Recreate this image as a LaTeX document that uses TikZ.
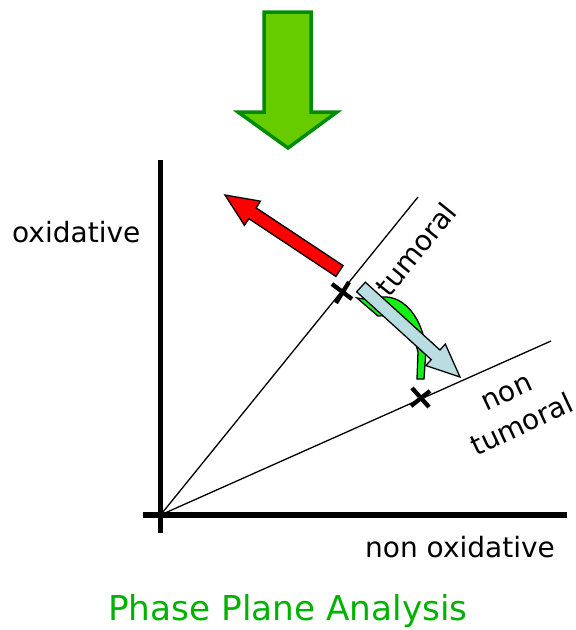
\documentclass[tikz,border=0pt]{standalone}
\usepackage{fontspec}
\setmainfont{DejaVu Sans}
\usetikzlibrary{calc}
\definecolor{arrgreen}{RGB}{102,204,0}
\definecolor{arrgreenline}{RGB}{0,140,0}
\definecolor{bluearr}{RGB}{185,222,226}
\definecolor{brightgreen}{RGB}{20,240,20}
\definecolor{titlegreen}{RGB}{0,178,0}
\newcommand{\fatarrow}[6]{% style, tail, tip, shaft width, head width, head length
  \coordinate (fa-base) at ($(#3)!#6!(#2)$);
  \draw[#1] ($(#2)!#4/2!-90:(#3)$) -- ($(fa-base)!#4/2!-90:(#3)$) -- ($(fa-base)!#5/2!-90:(#3)$)
    -- (#3) -- ($(fa-base)!#5/2!90:(#3)$) -- ($(fa-base)!#4/2!90:(#3)$) -- ($(#2)!#4/2!90:(#3)$) -- cycle;
}
\tikzset{
  axisline/.style={line width=5.5pt},
  rayline/.style={line width=1.3pt},
  xmark/.style={line width=4.3pt},
  lbl/.style={inner sep=0pt, font=\fontsize{28}{36}\selectfont},
  redarrow/.style={fill=red, draw=black, line width=1.3pt, line join=miter},
  bluearrow/.style={fill=bluearr, draw=black, line width=1.3pt, line join=miter},
  greenband/.style={fill=brightgreen, draw=black, line width=1.3pt},
  downarrow/.style={fill=arrgreen, draw=arrgreenline, line width=3.5pt, line join=miter}
}
\begin{document}
\begin{tikzpicture}[x=1pt,y=-1pt]
\useasboundingbox (0,0) rectangle (576,630);
% big green arrow
\draw[downarrow] (264,12) -- (311,12) -- (311,112) -- (337,112) -- (288,148) -- (238,112) -- (264,112) -- cycle;
% coordinates
\coordinate (O) at (160.5,515);
\coordinate (tumEnd) at (418,197);
\coordinate (nonEnd) at (551,341);
\coordinate (yTop) at (160.5,160);
\coordinate (yBot) at (160.5,533);
\coordinate (xLeft) at (143,515);
\coordinate (xRight) at (567,515);
% rays
\draw[rayline] (O) -- (tumEnd);
\draw[rayline] (O) -- (nonEnd);
% axes
\draw[axisline] (yTop) -- (yBot);
\draw[axisline] (xLeft) -- (xRight);
% x marks
\draw[xmark] (332,284) -- (352,299);
\draw[xmark] (336,303) -- (349,282);
\draw[xmark] (412,388) -- (429,407);
\draw[xmark] (411,406) -- (430,391);
% red arrow
\coordinate (redTail) at (339.5,271);
\coordinate (redTip) at (225,195);
\fatarrow{redarrow}{redTail}{redTip}{13pt}{29pt}{33pt}
% green curved arrow (partly hidden)
\draw[greenband] (357,298) -- (371,300) .. controls (397,288) and (422,312) .. (426,350)
  -- (424,379) -- (417,379) -- (418,352) .. controls (412,327) and (396,314) .. (378,316) -- cycle;
% blue arrow
\coordinate (blueTail) at (361,287);
\coordinate (blueTip) at (460,377);
\fatarrow{bluearrow}{blueTail}{blueTip}{13pt}{29pt}{33pt}
% labels
\node[lbl, anchor=base west] (oxi) at (12,242) {oxidative};
\node[lbl, anchor=base east] (nonoxi) at (555,557) {non oxidative};
\node[lbl, rotate=51] (tum) at (416,249) {tumoral};
\node[lbl, rotate=25, align=center] (nontum) at (515,410) {non\\tumoral};
\node[inner sep=0pt, anchor=base west, text=titlegreen, font=\fontsize{34.3}{40}\selectfont] (title) at (108,620) {Phase Plane Analysis};
\end{tikzpicture}
\end{document}
